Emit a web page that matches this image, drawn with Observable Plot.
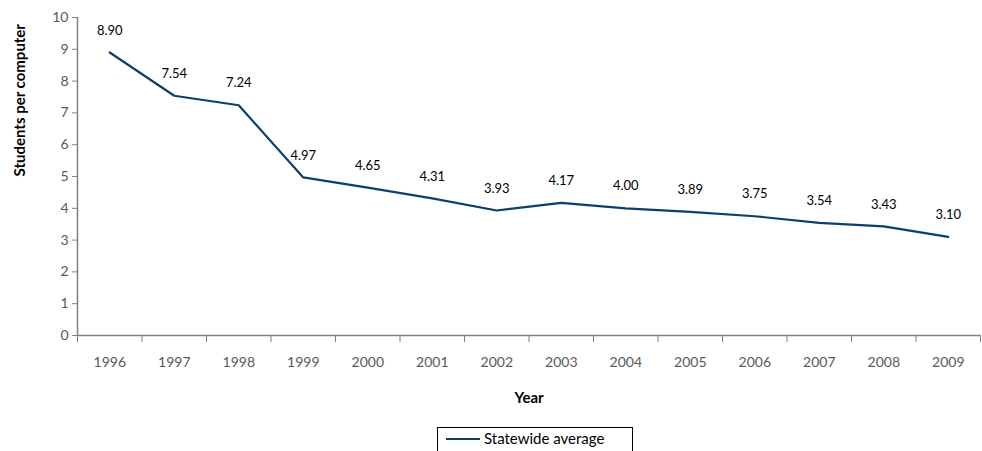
<!DOCTYPE html>
<html><head><meta charset="utf-8">
<script src="https://cdn.jsdelivr.net/npm/d3@7"></script>
<script src="https://cdn.jsdelivr.net/npm/@observablehq/plot@0.6"></script>
<style>
body{margin:0;background:#fff;font-family:Lato,sans-serif}
#legend{position:absolute;left:437px;top:427px;width:196px;height:30px;border:1px solid #000;box-sizing:border-box;font:15px Lato,sans-serif;color:#000}
#legend span.l{position:absolute;left:8px;top:10px;width:34px;border-top:2px solid #0b3f6e}
#legend span.t{position:absolute;left:46px;top:1px}
</style></head><body>
<div id="chart"></div>
<div id="legend"><span class="l"></span><span class="t">Statewide average</span></div>
<script>
const years = [1996,1997,1998,1999,2000,2001,2002,2003,2004,2005,2006,2007,2008,2009];
const values = [8.90,7.54,7.24,4.97,4.65,4.31,3.93,4.17,4.00,3.89,3.75,3.54,3.43,3.10];
const data = years.map((y,i)=>({year:y, v:values[i]}));
const bounds = years.map(y=>y-0.5).concat([years[years.length-1]+0.5]);

const chart = Plot.plot({
  width: 982, height: 420,
  marginLeft: 77, marginRight: 2, marginTop: 17, marginBottom: 85,
  style: {fontFamily: "Lato, sans-serif", fontSize: "14px", color: "#595959"},
  x: {domain: [1995.5, 2009.5], label: null},
  y: {domain: [0, 10], label: null},
  marks: [
    Plot.axisY({ticks: d3.range(0, 11), tickSize: 5, tickFormat: d=>d, stroke:"#808080", fontSize: 14}),
    Plot.axisX({ticks: years, tickSize: 0, tickPadding: 22, tickFormat: d=>String(d), fontSize: 14}),
    Plot.ruleX([1995.5], {stroke: "#808080", strokeWidth: 1.5}),
    Plot.ruleY([0], {stroke: "#808080", strokeWidth: 1.5}),
    Plot.ruleX(bounds, {y1: 0, y2: 0, insetBottom: -7, stroke: "#808080"}),
    Plot.line(data, {x: "year", y: "v", stroke: "#0b3f6e", strokeWidth: 2.2}),
    Plot.text(data, {x: "year", y: "v", text: d=>d.v.toFixed(2), dy: -22, fill: "#000", fontSize: 13}),
    Plot.text(["Year"], {frameAnchor: "bottom", dy: 67, text: d=>d, fill:"#000", fontWeight: "bold", fontSize: 15}),
    Plot.text(["Students per computer"], {frameAnchor: "left", dx: -57, rotate: -90, text: d=>d, fill:"#000", fontWeight: "bold", fontSize: 15})
  ]
});
d3.select("#chart").append(() => chart);
</script>
</body></html>
